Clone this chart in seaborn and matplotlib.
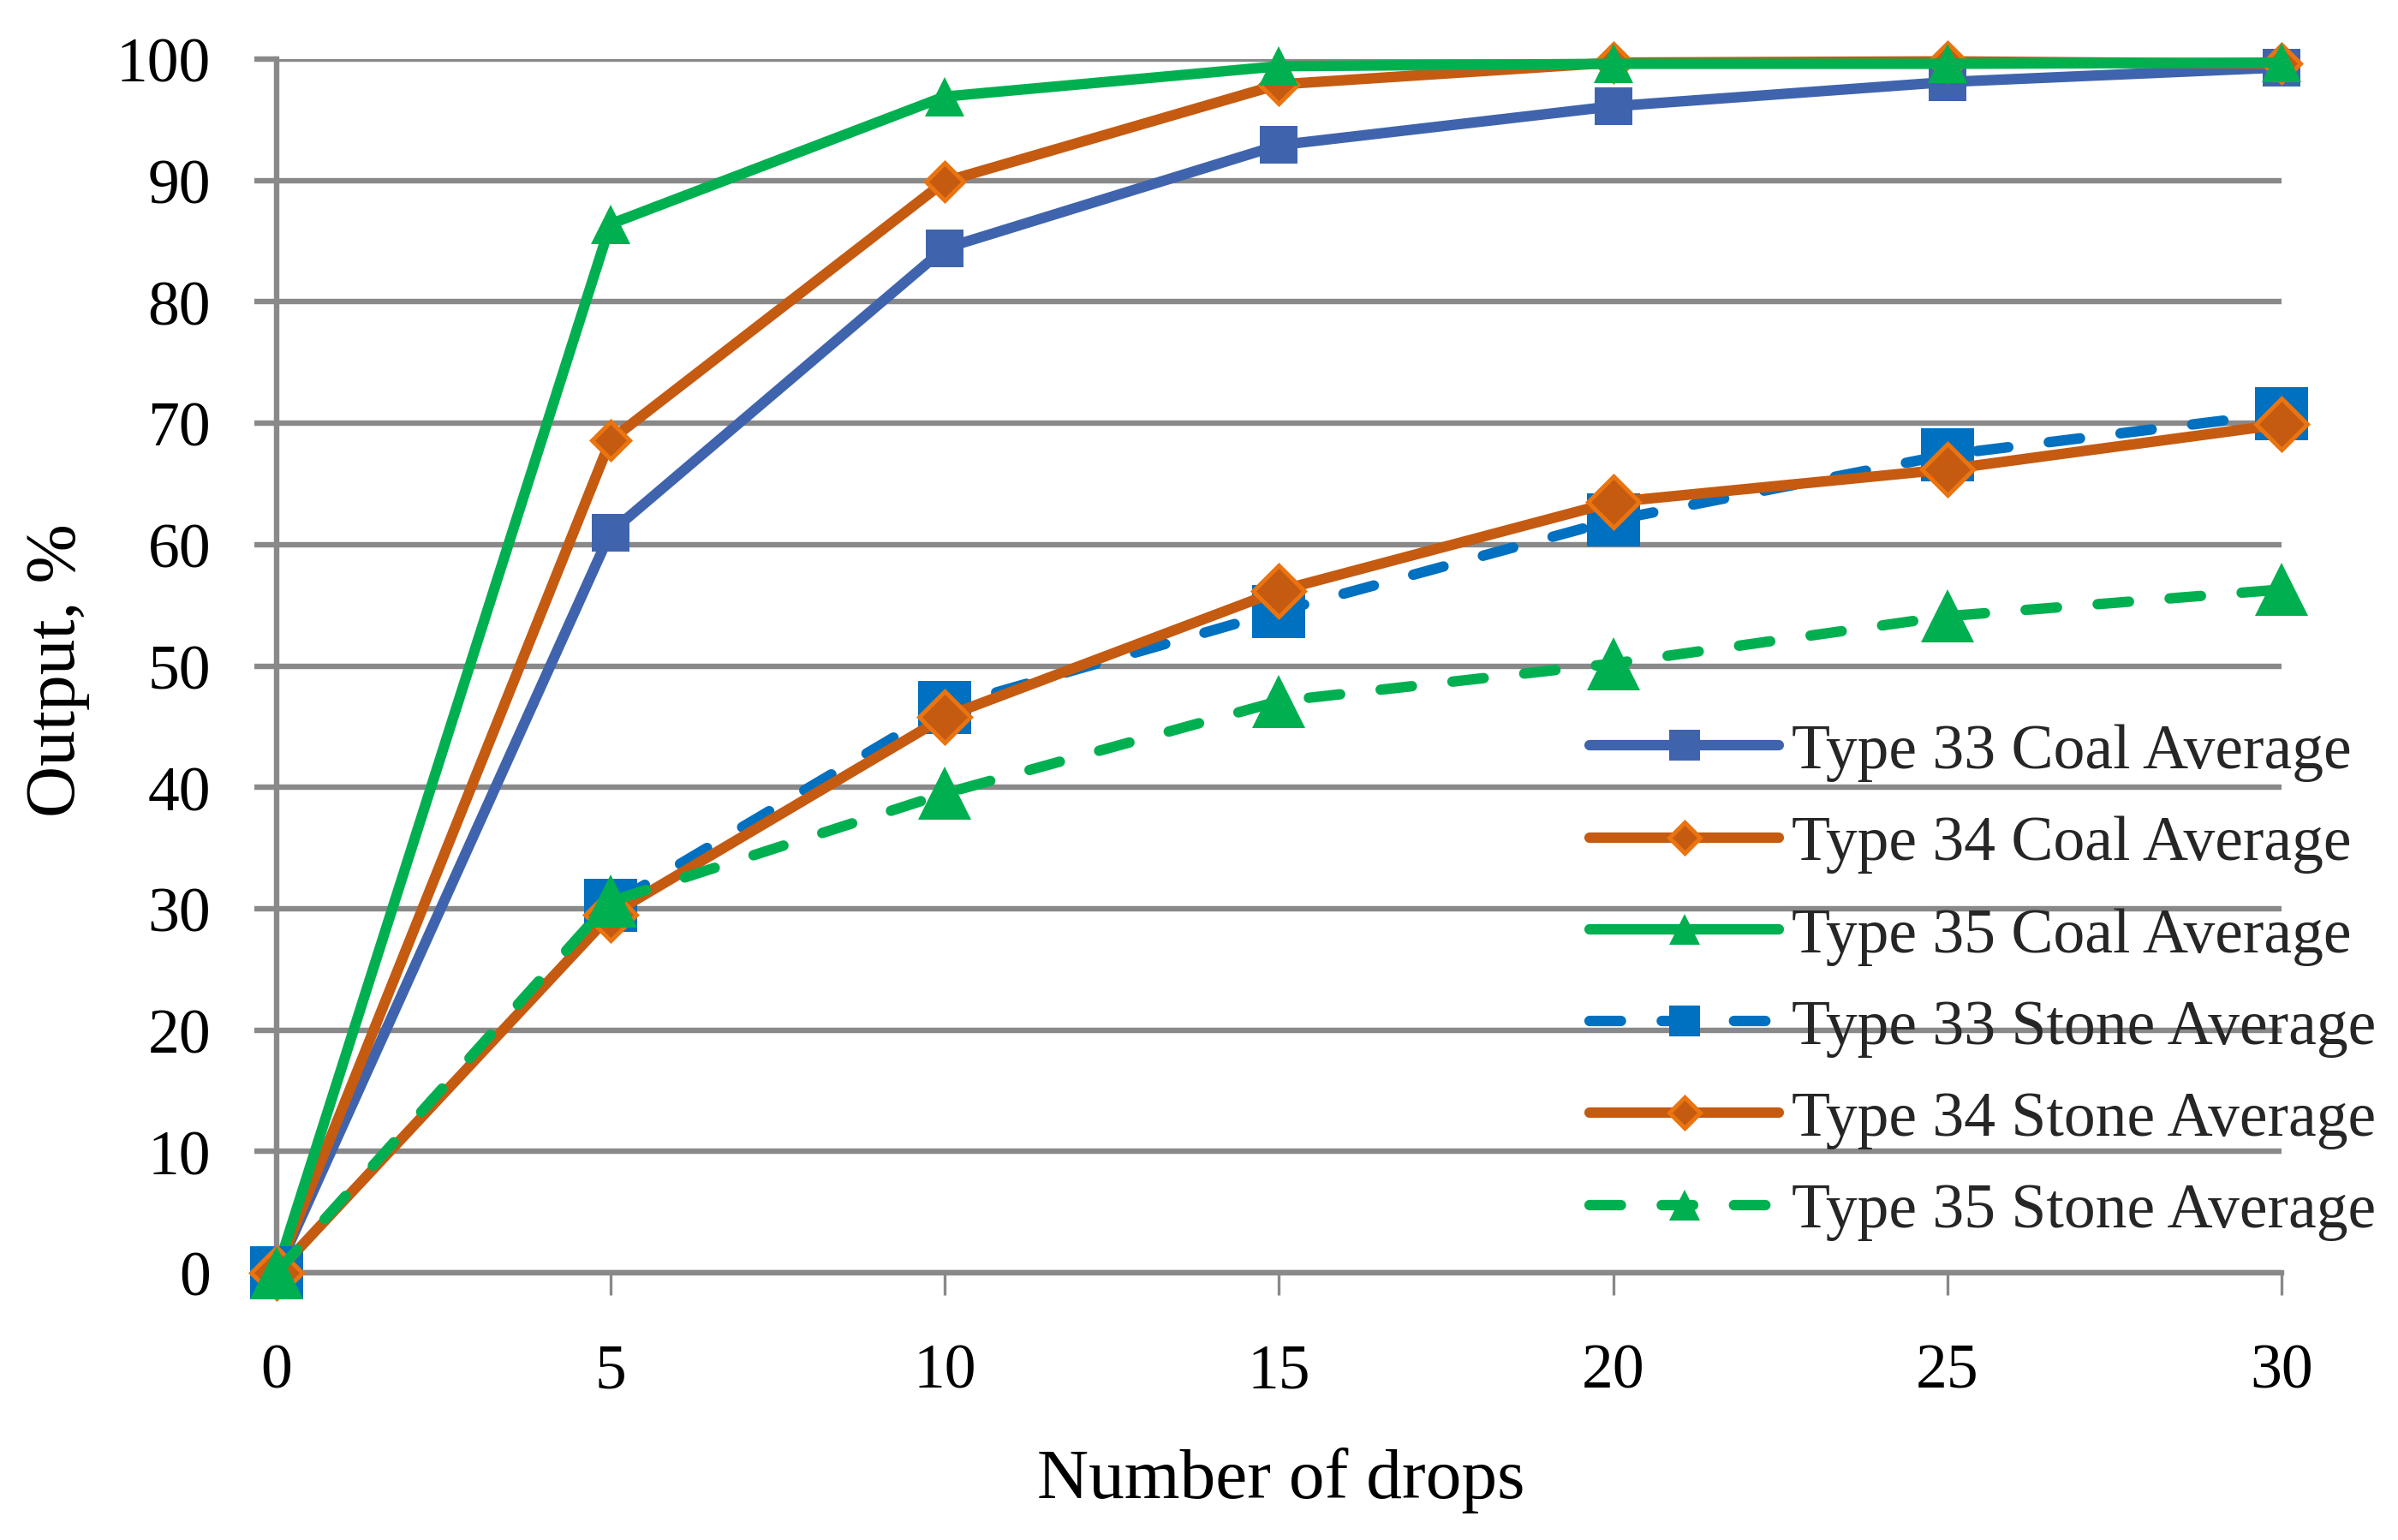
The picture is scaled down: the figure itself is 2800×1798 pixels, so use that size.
import pandas as pd
import numpy as np
import matplotlib
matplotlib.use("Agg")
import matplotlib.pyplot as plt
import seaborn as sns

# data
drops = [0, 5, 10, 15, 20, 25, 30]
coal33 = [0, 61.0, 84.4, 92.9, 96.1, 98.1, 99.3]
coal34 = [0, 68.6, 89.9, 97.9, 99.7, 99.8, 99.6]
coal35 = [0, 86.4, 96.9, 99.4, 99.6, 99.6, 99.7]
stone33 = [0, 30.3, 46.6, 54.5, 62.0, 67.4, 70.8]
stone34 = [0, 29.5, 45.8, 56.2, 63.5, 66.2, 69.9]
stone35 = [0, 30.6, 39.5, 47.1, 50.2, 54.1, 56.3]

series_names = ["Type 33 Coal Average", "Type 34 Coal Average", "Type 35 Coal Average",
                "Type 33 Stone Average", "Type 34 Stone Average", "Type 35 Stone Average"]
series_values = [coal33, coal34, coal35, stone33, stone34, stone35]

df = pd.DataFrame({
    "drops": drops * len(series_names),
    "output": np.concatenate(series_values),
    "series": np.repeat(series_names, len(drops)),
})

sns.set_theme(style="white")
plt.rcParams["font.family"] = ["Liberation Serif", "DejaVu Serif"]

GRID = "#898989"
ORANGE = "#C55A11"
ORANGE_EDGE = "#EA7410"
DASH = (0, (3.0, 3.9))

styles = {
    "Type 33 Coal Average": dict(color="#3F64AD", marker="s", markersize=16, ls="-",
                                 mec="#3F64AD", mew=0),
    "Type 34 Coal Average": dict(color=ORANGE, marker="D", markersize=11, ls="-",
                                 mec=ORANGE_EDGE, mew=1.8),
    "Type 35 Coal Average": dict(color="#00B050", marker="^", markersize=16.5, ls="-",
                                 mec="#00B050", mew=0),
    "Type 33 Stone Average": dict(color="#0070C0", marker="s", markersize=22, ls=DASH,
                                  mec="#0070C0", mew=0),
    "Type 34 Stone Average": dict(color=ORANGE, marker="D", markersize=15.5, ls="-",
                                  mec=ORANGE_EDGE, mew=1.8),
    "Type 35 Stone Average": dict(color="#00B050", marker="^", markersize=22, ls=DASH,
                                  mec="#00B050", mew=0),
}
legend_ms = {"s": 13.3, "D": 9.0, "^": 13.3}

fig, ax = plt.subplots(figsize=(14, 8.995), dpi=200)
fig.subplots_adjust(left=0.1152, right=0.9515, bottom=0.1733, top=0.9612)

for name in series_names:
    st = styles[name]
    sns.lineplot(data=df[df["series"] == name], x="drops", y="output", ax=ax,
                 color=st["color"], marker=st["marker"], markersize=st["markersize"],
                 markeredgecolor=st["mec"], markeredgewidth=st["mew"],
                 linestyle=st["ls"], linewidth=4.4, dash_capstyle="round",
                 solid_capstyle="round", clip_on=False, label=name, zorder=3)

ax.set_xlim(0, 30)
ax.set_ylim(0, 100)
ax.set_xticks(range(0, 31, 5))
ax.set_yticks(range(0, 101, 10))

ax.set_axisbelow(True)
ax.yaxis.grid(True, color=GRID, linewidth=2.3)
ax.xaxis.grid(False)
for side in ["top", "right"]:
    ax.spines[side].set_visible(False)
for side in ["left", "bottom"]:
    ax.spines[side].set_color(GRID)
    ax.spines[side].set_linewidth(2.3)

ax.tick_params(axis="y", direction="out", length=9.5, width=2.3, color=GRID,
               labelsize=26.5, pad=18, left=True, labelcolor="black")
ax.tick_params(axis="x", direction="out", length=9.5, width=1.2, color=GRID,
               labelsize=26.5, pad=20, bottom=True, labelcolor="black")

ax.set_xlabel("Number of drops", fontsize=30, color="black")
ax.set_ylabel("Output, %", fontsize=30, color="black")
ax.xaxis.set_label_coords(0.5008, -0.143)
ax.yaxis.set_label_coords(-0.093, 0.497)

handles, labels = ax.get_legend_handles_labels()
leg = ax.legend(handles, labels, loc="upper left", bbox_to_anchor=(0.663, 0.53),
                bbox_transform=fig.transFigure, frameon=False, fontsize=26.5,
                handlelength=3.0, handletextpad=0.2, labelspacing=0.54,
                borderpad=0, borderaxespad=0, numpoints=1)
for h in leg.legend_handles:
    h.set_markersize(legend_ms[h.get_marker()])

fig.savefig("out.png", dpi=200)
